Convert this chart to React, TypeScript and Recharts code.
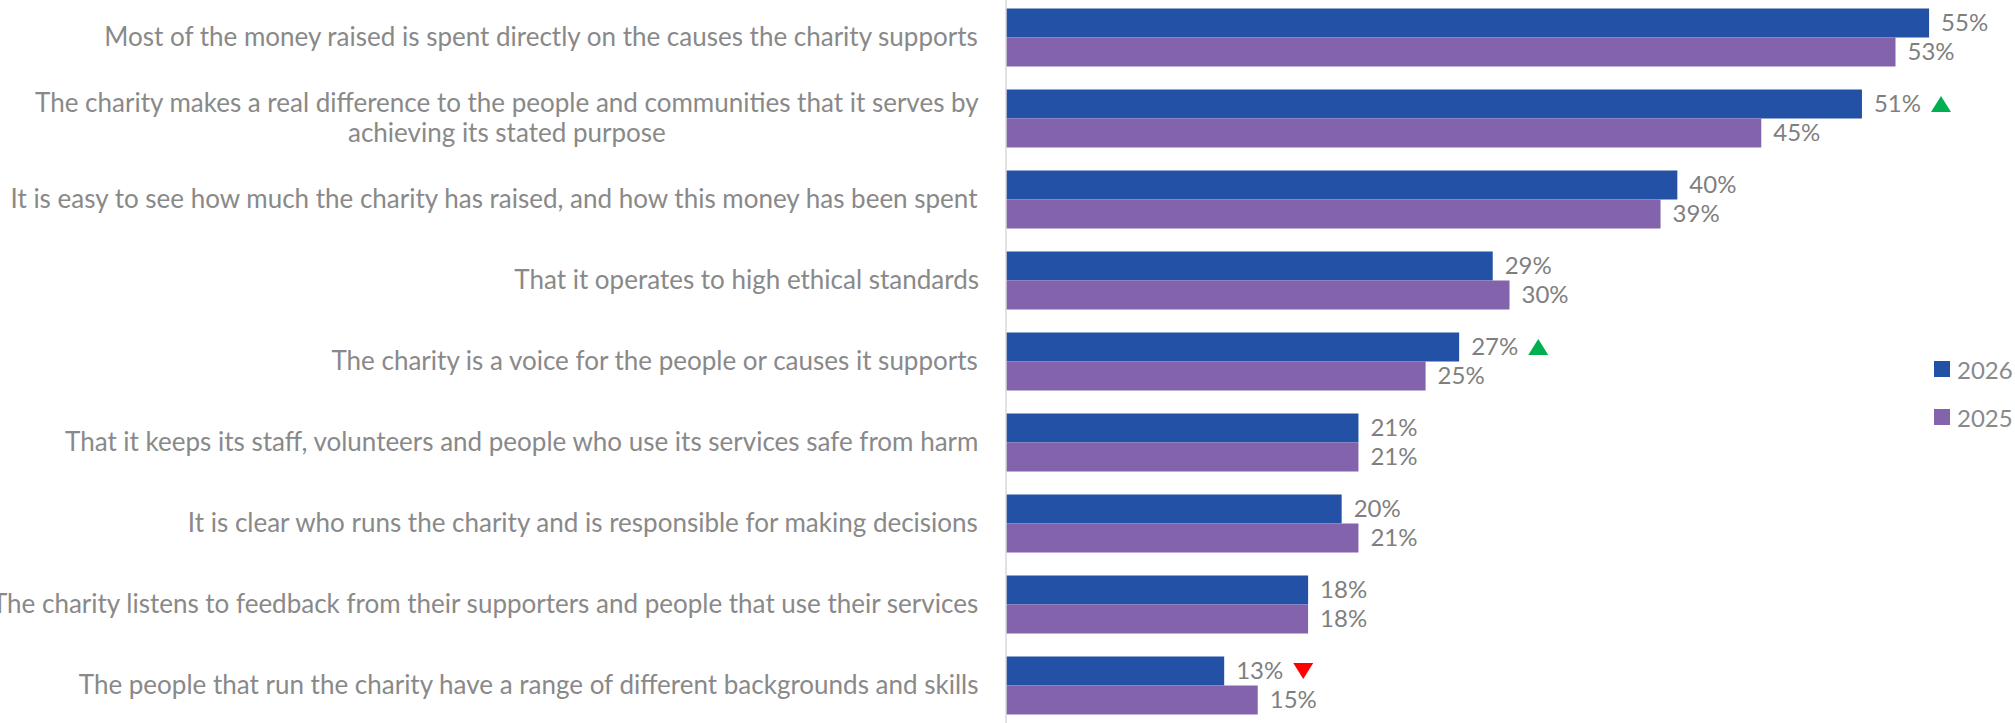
import { BarChart, Bar, XAxis, YAxis, LabelList } from 'recharts';

const categories = [
  'Most of the money raised is spent directly on the causes the charity supports',
  'The charity makes a real difference to the people and communities that it serves by\nachieving its stated purpose',
  'It is easy to see how much the charity has raised, and how this money has been spent',
  'That it operates to high ethical standards',
  'The charity is a voice for the people or causes it supports',
  'That it keeps its staff, volunteers and people who use its services safe from harm',
  'It is clear who runs the charity and is responsible for making decisions',
  'The charity listens to feedback from their supporters and people that use their services',
  'The people that run the charity have a range of different backgrounds and skills',
];
const values2026 = [55, 51, 40, 29, 27, 21, 20, 18, 13];
const values2025 = [53, 45, 39, 30, 25, 21, 21, 18, 15];
// significant change vs 2025
const changes2026 = ['', 'up', '', '', 'up', '', '', '', 'down'];

const series = [
  { key: 'y2026', name: '2026', color: '#2251A6' },
  { key: 'y2025', name: '2025', color: '#8463AD' },
];

const data = categories.map((category, i) => ({
  category,
  y2026: values2026[i],
  y2025: values2025[i],
}));

const FONT = 'Lato, "Open Sans", sans-serif';
const LABEL_SIZE = 24;
const TICK_SIZE = 26;

let ctx: CanvasRenderingContext2D | null = null;
function textWidth(t: string, size: number) {
  if (!ctx) ctx = document.createElement('canvas').getContext('2d');
  if (!ctx) return t.length * size * 0.46;
  ctx.font = `${size}px Lato`;
  return ctx.measureText(t).width;
}

function CategoryTick({ x, y, payload }: any) {
  const lines = String(payload.value).split('\n');
  const w = textWidth(lines[0], TICK_SIZE);
  const cx = x - w / 2;
  const lh = 30;
  const y0 = y - ((lines.length - 1) * lh) / 2;
  return (
    <text x={cx} y={y0} textAnchor="middle" fill="#898989" fontSize={TICK_SIZE} fontFamily={FONT}>
      {lines.map((l, i) => (
        <tspan key={i} x={cx} y={y0 + i * lh} dy="0.35em">{l}</tspan>
      ))}
    </text>
  );
}

const makeLabel = (withChange: boolean) => (props: any) => {
  const { x, y, width, height, value, index } = props;
  const tx = x + width + 12;
  const cy = y + height / 2;
  const label = `${value}%`;
  const change = withChange ? changes2026[index] : '';
  let tri = null;
  if (change) {
    const l = tx + textWidth(label, LABEL_SIZE) + 10;
    const pts = change === 'up'
      ? `${l},${cy + 8} ${l + 20},${cy + 8} ${l + 10},${cy - 8}`
      : `${l},${cy - 8} ${l + 20},${cy - 8} ${l + 10},${cy + 8}`;
    tri = <polygon points={pts} fill={change === 'up' ? '#00B050' : '#FF0000'} />;
  }
  return (
    <g>
      <text x={tx} y={cy} dy="0.35em" fill="#7f7f7f" fontSize={LABEL_SIZE} fontFamily={FONT}>{label}</text>
      {tri}
    </g>
  );
};

export default function App() {
  return (
    <div style={{ position: 'relative', width: 2015, height: 723, background: '#fff', overflow: 'hidden' }}>
      <style>{'body{margin:0}'}</style>
      <BarChart
        width={2015}
        height={723}
        data={data}
        layout="vertical"
        margin={{ top: -3.5, right: 2, bottom: -2.5, left: 0 }}
        barGap={0}
      >
        <XAxis type="number" domain={[0, 60]} hide />
        <YAxis
          type="category"
          dataKey="category"
          width={1006}
          tickLine={false}
          tickSize={0}
          tickMargin={27}
          axisLine={{ stroke: '#d9d9d9', strokeWidth: 1.5 }}
          tick={<CategoryTick />}
          interval={0}
        />
        {series.map((s, i) => (
          <Bar key={s.key} dataKey={s.key} name={s.name} fill={s.color} barSize={29} isAnimationActive={false}>
            <LabelList dataKey={s.key} content={makeLabel(i === 0)} />
          </Bar>
        ))}
      </BarChart>
      <div style={{ position: 'absolute', left: 1934, top: 345, fontFamily: FONT, fontSize: LABEL_SIZE, color: '#898989' }}>
        {series.map((s) => (
          <div key={s.key} style={{ display: 'flex', alignItems: 'center', height: 48 }}>
            <span style={{ width: 16, height: 16, background: s.color, display: 'inline-block', marginRight: 7 }} />
            <span>{s.name}</span>
          </div>
        ))}
      </div>
    </div>
  );
}
